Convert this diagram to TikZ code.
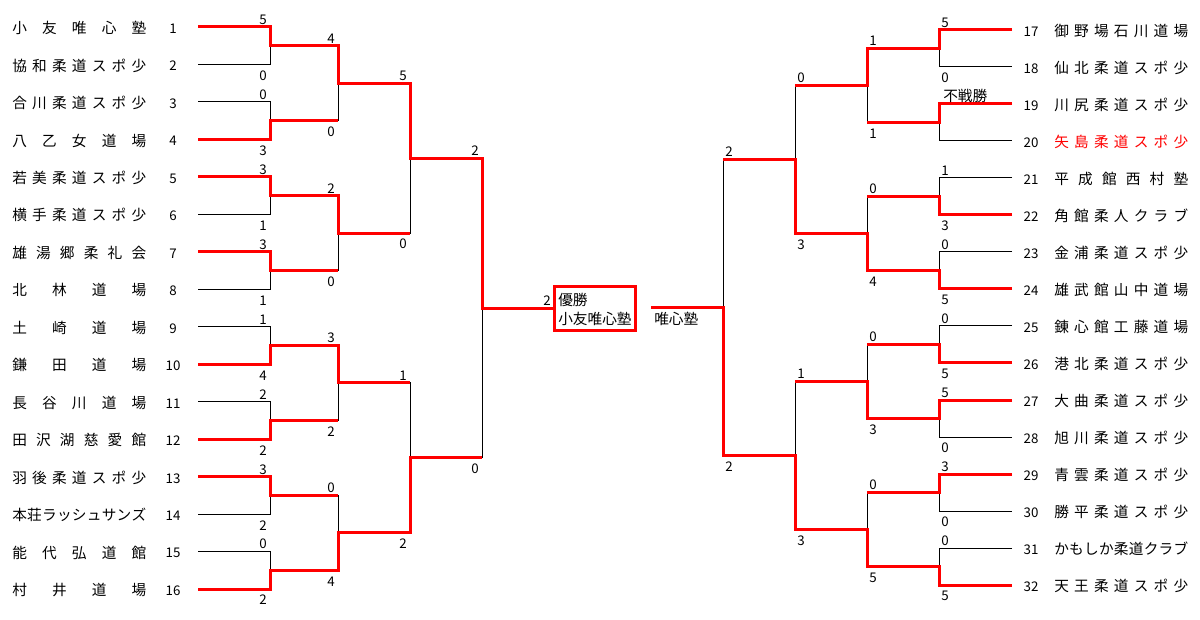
\documentclass[tikz,border=0pt]{standalone}
\usepackage{fontspec}
\setmainfont{Noto Sans CJK JP}
\makeatletter
\def\jspread#1{\jsp@first#1\@nil}
\def\jsp@first#1{#1\jsp@loop}
\def\jsp@loop#1{\ifx#1\@nil\else\hfill#1\expandafter\jsp@loop\fi}
\makeatother
\definecolor{bred}{RGB}{255,0,0}
\tikzset{
  blk/.style={draw=black,line width=0.75pt},
  win/.style={draw=bred,line width=2.25pt,line join=miter},
  tname/.style={anchor=base west,inner sep=0pt,font=\fontsize{11}{13}\selectfont},
  tnum/.style={anchor=base,inner sep=0pt,font=\fontsize{10}{12}\selectfont},
  score/.style={anchor=base,inner sep=0pt,font=\fontsize{10}{12}\selectfont},
  jp/.style={anchor=base west,inner sep=0pt,font=\fontsize{11}{13}\selectfont},
}
\begin{document}
\begin{tikzpicture}[x=0.75pt,y=-0.75pt]
\fill[white] (0,0) rectangle (1200,620);
\useasboundingbox (0,0) rectangle (1200,620);

% ---------- left team names and numbers
\foreach \nm [count=\i] in {小友唯心塾,協和柔道スポ少,合川柔道スポ少,八乙女道場,若美柔道スポ少,横手柔道スポ少,雄湯郷柔礼会,北林道場,土崎道場,鎌田道場,長谷川道場,田沢湖慈愛館,羽後柔道スポ少,本荘ラッシュサンズ,能代弘道館,村井道場}{
  \pgfmathsetmacro\yy{27+(\i-1)*37.47}
  \node[tname] (L\i) at (12,\yy+6.6) {\makebox[100.5pt]{\expandafter\jspread\expandafter{\nm}}};
  \node[tnum] (Ln\i) at (173,\yy+6.4) {\i};
}
% ---------- right team names and numbers
\foreach \nm/\cl [count=\i from 17] in {御野場石川道場/black,仙北柔道スポ少/black,川尻柔道スポ少/black,矢島柔道スポ少/bred,平成館西村塾/black,角館柔人クラブ/black,金浦柔道スポ少/black,雄武館山中道場/black,錬心館工藤道場/black,港北柔道スポ少/black,大曲柔道スポ少/black,旭川柔道スポ少/black,青雲柔道スポ少/black,勝平柔道スポ少/black,かもしか柔道クラブ/black,天王柔道スポ少/black}{
  \pgfmathsetmacro\yy{30+(\i-17)*37}
  \node[tname,text=\cl] (R\i) at (1054,\yy+6.6) {\makebox[100.5pt]{\expandafter\jspread\expandafter{\nm}}};
  \node[tnum] (Rn\i) at (1031,\yy+6.4) {\i};
}

% ---------- black bracket structure, left
\foreach \L/\xv/\xp in {1/270/198,2/338/270,3/410/338,4/482/410}{
  \pgfmathtruncatemacro\n{16/(2^\L)}
  \foreach \k in {1,...,\n}{
    \pgfmathsetmacro\yt{27+37.47*((\k-1)*2^\L+(2^(\L-1)-1)/2)}
    \pgfmathsetmacro\yb{\yt+37.47*2^(\L-1)}
    \draw[blk] (\xp,\yt) -- (\xv,\yt) -- (\xv,\yb) -- (\xp,\yb);
  }
}
% ---------- black bracket structure, right
\foreach \L/\xv/\xp in {1/939/1012,2/867/939,3/795/867,4/723/795}{
  \pgfmathtruncatemacro\n{16/(2^\L)}
  \foreach \k in {1,...,\n}{
    \pgfmathsetmacro\yt{30+37*((\k-1)*2^\L+(2^(\L-1)-1)/2)}
    \pgfmathsetmacro\yb{\yt+37*2^(\L-1)}
    \draw[blk] (\xp,\yt) -- (\xv,\yt) -- (\xv,\yb) -- (\xp,\yb);
  }
}

% ---------- red winning paths, left
\draw[win] (198,27) -- (270,27) -- (270,45.735) -- (338,45.735) -- (338,83.205) -- (410,83.205) -- (410,158.145) -- (482,158.145) -- (482,308.025) -- (555,308.025);
\draw[win] (198,139.41) -- (270,139.41) -- (270,120.675) -- (338,120.675);
\draw[win] (198,176.88) -- (270,176.88) -- (270,195.615) -- (338,195.615) -- (338,233.085) -- (410,233.085);
\draw[win] (198,251.82) -- (270,251.82) -- (270,270.555) -- (338,270.555);
\draw[win] (198,364.23) -- (270,364.23) -- (270,345.495) -- (338,345.495) -- (338,382.965) -- (410,382.965);
\draw[win] (198,439.17) -- (270,439.17) -- (270,420.435) -- (338,420.435);
\draw[win] (198,476.64) -- (270,476.64) -- (270,495.375) -- (338,495.375);
\draw[win] (198,589.05) -- (270,589.05) -- (270,570.315) -- (338,570.315) -- (338,532.845) -- (410,532.845) -- (410,457.905) -- (482,457.905);

% ---------- red winning paths, right
\draw[win] (1012,30) -- (939,30) -- (939,48.5) -- (867,48.5) -- (867,85.5) -- (795,85.5);
\draw[win] (1012,104) -- (939,104) -- (939,122.5) -- (867,122.5);
\draw[win] (1012,215) -- (939,215) -- (939,196.5) -- (867,196.5);
\draw[win] (1012,289) -- (939,289) -- (939,270.5) -- (867,270.5) -- (867,233.5) -- (795,233.5) -- (795,159.5) -- (723,159.5);
\draw[win] (1012,363) -- (939,363) -- (939,344.5) -- (867,344.5);
\draw[win] (1012,400) -- (939,400) -- (939,418.5) -- (867,418.5) -- (867,381.5) -- (795,381.5);
\draw[win] (1012,474) -- (939,474) -- (939,492.5) -- (867,492.5);
\draw[win] (1012,585) -- (939,585) -- (939,566.5) -- (867,566.5) -- (867,529.5) -- (795,529.5) -- (795,455.5) -- (723,455.5) -- (723,307.5) -- (651,307.5);

% ---------- scores, left
\foreach \L/\x/\k/\a/\b in {1/263/1/5/0,1/263/2/0/3,1/263/3/3/1,1/263/4/3/1,1/263/5/1/4,1/263/6/2/2,1/263/7/3/2,1/263/8/0/2,
  2/331/1/4/0,2/331/2/2/0,2/331/3/3/2,2/331/4/0/4,
  3/403/1/5/0,3/403/2/1/2,
  4/475/1/2/0}{
  \pgfmathsetmacro\yt{27+37.47*((\k-1)*2^\L+(2^(\L-1)-1)/2)}
  \pgfmathsetmacro\yb{\yt+37.47*2^(\L-1)}
  \node[score] at (\x,\yt-2.6) {\a};
  \node[score] at (\x,\yb+15.9) {\b};
}
% ---------- scores, right
\foreach \L/\x/\k/\a/\b in {1/945/1/5/0,1/945/3/1/3,1/945/4/0/5,1/945/5/0/5,1/945/6/5/0,1/945/7/3/0,1/945/8/0/5,
  2/873/1/1/1,2/873/2/0/4,2/873/3/0/3,2/873/4/0/5,
  3/801/1/0/3,3/801/2/1/3,
  4/729/1/2/2}{
  \pgfmathsetmacro\yt{30+37*((\k-1)*2^\L+(2^(\L-1)-1)/2)}
  \pgfmathsetmacro\yb{\yt+37*2^(\L-1)}
  \node[score] at (\x,\yt-2.6) {\a};
  \node[score] at (\x,\yb+15.9) {\b};
}
\node[jp] (fusen) at (943,101.6) {不戦勝};

% ---------- final
\node[score] (fs) at (547,305.4) {2};
\draw[win] (554,287) rectangle (635,331);
\node[jp] (champ) at (558,305.6) {優勝};
\node[jp] (champname) at (558,324.6) {小友唯心塾};
\node[jp] (runner) at (654,324.6) {唯心塾};
\end{tikzpicture}
\end{document}
